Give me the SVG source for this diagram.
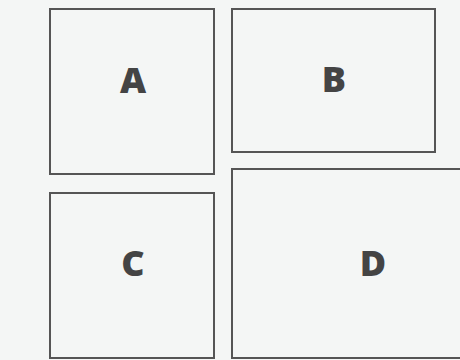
<svg xmlns="http://www.w3.org/2000/svg" width="460" height="360" viewBox="0 0 460 360">
<style>
.box{fill:#f4f6f5;stroke:#555;stroke-width:2}
.lbl{font-family:"Open Sans","Noto Sans",sans-serif;font-weight:800;font-size:36px;fill:#444;text-anchor:middle}
</style>
<rect width="460" height="360" fill="#f4f6f5"/>
<g id="connectors"/>
<g id="A"><rect class="box" x="50" y="9" width="164" height="165"/><text class="lbl" x="133" y="93">A</text></g>
<g id="B"><rect class="box" x="232" y="9" width="203" height="143"/><text class="lbl" x="334" y="92">B</text></g>
<g id="C"><rect class="box" x="50" y="193" width="164" height="165"/><text class="lbl" x="133" y="276">C</text></g>
<g id="D"><rect class="box" x="232" y="169" width="282" height="189"/><text class="lbl" x="373" y="276">D</text></g>
</svg>
